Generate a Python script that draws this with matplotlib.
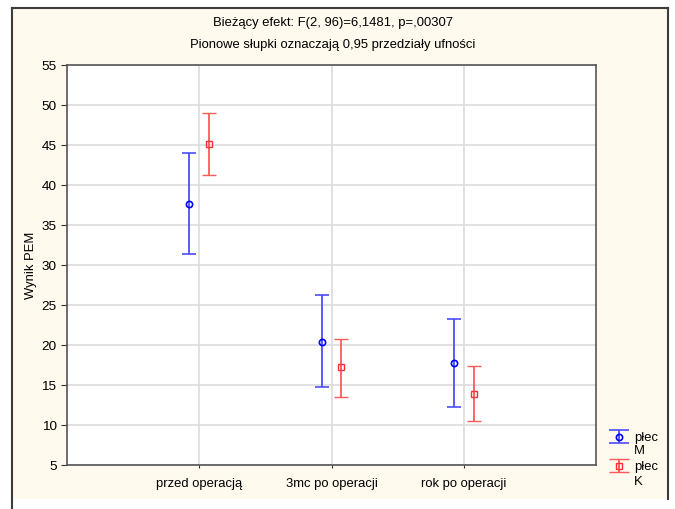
import matplotlib.pyplot as plt
import numpy as np
from matplotlib.lines import Line2D
from matplotlib.legend_handler import HandlerErrorbar

plt.rcParams['font.family'] = ['Liberation Sans', 'DejaVu Sans']

# dane (srednie i granice 95% CI)
categories = ["przed operacją", "3mc po operacji", "rok po operacji"]
m_mean = [37.6, 20.4, 17.7]
m_low = [31.4, 14.7, 12.2]
m_high = [44.0, 26.2, 23.25]
k_mean = [45.1, 17.2, 13.9]
k_low = [41.2, 13.5, 10.5]
k_high = [49.0, 20.75, 17.35]
yticks = np.arange(5, 56, 5)

FS = 9.4

fig = plt.figure(figsize=(6.75, 5.09), dpi=100)
fig.patch.set_facecolor("white")

# tlo ramki
frame = plt.Rectangle((12 / 675, 1 - 499 / 509), 656 / 675, 491 / 509,
                      transform=fig.transFigure, facecolor="#fff9ee",
                      edgecolor="none", zorder=-5)
fig.add_artist(frame)
border = "#3c3c3c"
fig.add_artist(Line2D([12 / 675, 12 / 675], [0, 1 - 8 / 509], transform=fig.transFigure, color=border, lw=1.5))
fig.add_artist(Line2D([12 / 675, 668 / 675], [1 - 8 / 509, 1 - 8 / 509], transform=fig.transFigure, color=border, lw=1.5))
fig.add_artist(Line2D([668 / 675, 668 / 675], [1 - 8 / 509, 1 - 499 / 509], transform=fig.transFigure, color=border, lw=1.5))

ax = fig.add_axes([67 / 675, 1 - 465 / 509, 529 / 675, 400 / 509])
ax.set_facecolor("white")

x = np.arange(1, len(categories) + 1)
off = 0.075

m_mean = np.array(m_mean)
k_mean = np.array(k_mean)
m_err = [m_mean - np.array(m_low), np.array(m_high) - m_mean]
k_err = [k_mean - np.array(k_low), np.array(k_high) - k_mean]

eb_m = ax.errorbar(x - off, m_mean, yerr=m_err, fmt="o", color="#0000ff",
                   ecolor=(0.3, 0.3, 1.0), elinewidth=1.3, capsize=4.7, capthick=1.3,
                   markersize=4.5, markerfacecolor="none", markeredgewidth=1.2, zorder=3)
eb_k = ax.errorbar(x + off, k_mean, yerr=k_err, fmt="s", color="#ff3030",
                   ecolor=(1.0, 0.35, 0.35), elinewidth=1.3, capsize=4.7, capthick=1.3,
                   markersize=4.5, markerfacecolor="none", markeredgewidth=1.0, zorder=3)

ax.set_xlim(0, 4)
ax.set_ylim(5, 55)
ax.set_yticks(yticks)
ax.set_xticks(x)
ax.set_xticklabels(categories, fontsize=FS)
ax.tick_params(axis="y", direction="out", length=4, labelsize=FS + 0.3, colors="#333333", labelcolor="black")
ax.tick_params(axis="x", direction="out", length=2, pad=7, colors="#333333", labelcolor="black")
ax.grid(True, color="#dcdcdc", lw=1.2)
ax.set_axisbelow(True)
for s in ax.spines.values():
    s.set_color("#555555")
    s.set_linewidth(1.2)

ax.set_ylabel("Wynik PEM", fontsize=FS, labelpad=3)

fig.text(333 / 675, 1 - 23 / 509, "Bieżący efekt: F(2, 96)=6,1481, p=,00307",
         ha="center", va="center", fontsize=FS)
fig.text(333 / 675, 1 - 45 / 509, "Pionowe słupki oznaczają 0,95 przedziały ufności",
         ha="center", va="center", fontsize=FS)


# szersze poziome kreski w symbolach legendy
def wide_caps(leg_handle, orig_handle):
    leg_handle.update_from(orig_handle)
    if isinstance(leg_handle, Line2D) and leg_handle.get_marker() == "_":
        leg_handle.set_markersize(15)


# legenda: "płec" obok symbolu, poziom zmiennej w linii pod spodem
leg = fig.legend([eb_m, eb_k], ["płec", "płec"], loc="upper left",
                 bbox_to_anchor=(598 / 675, 1 - 423 / 509), frameon=False,
                 fontsize=FS, handlelength=1.8, handletextpad=0.3,
                 labelspacing=1.3, borderpad=0.2,
                 handler_map={type(eb_m): HandlerErrorbar(update_func=wide_caps)})
fig.text(634 / 675, 1 - 451 / 509, "M", ha="left", va="center", fontsize=FS)
fig.text(634 / 675, 1 - 482 / 509, "K", ha="left", va="center", fontsize=FS)

fig.savefig("out.png", dpi=100)
